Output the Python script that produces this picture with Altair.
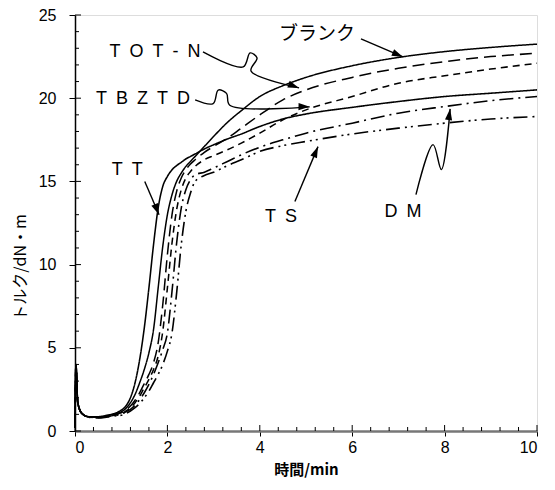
import math
import altair as alt
import pandas as pd

# ---------------- data ----------------
time_min = [0, 0.02, 0.06, 0.15, 0.3, 0.5, 0.7, 0.9, 1.0, 1.1, 1.2, 1.3, 1.4, 1.5, 1.6, 1.7,
            1.8, 1.9, 2.0, 2.1, 2.2, 2.3, 2.4, 2.5, 2.6, 2.8, 3.0, 3.3, 3.6, 4.0, 4.5, 5.0,
            6.0, 7.0, 8.0, 9.0, 10.0]

blank = [0.2, 4.0, 1.7, 1.05, 0.85, 0.84, 0.92, 1.05, 1.15, 1.35, 1.7, 2.2, 2.9, 3.7, 4.7, 6.1,
         8.6, 11.1, 13.0, 14.2, 15.0, 15.5, 15.9, 16.2, 16.5, 17.1, 17.7, 18.55, 19.25, 20.1, 20.75, 21.25,
         21.95, 22.45, 22.8, 23.05, 23.25]
totn = [0.2, 4.0, 1.7, 1.05, 0.85, 0.83, 0.9, 1.02, 1.1, 1.25, 1.5, 1.85, 2.3, 2.85, 3.4, 4.1,
        5.3, 7.6, 10.6, 13.0, 14.4, 15.2, 15.7, 16.05, 16.3, 16.75, 17.1, 17.6, 18.2, 19.0, 19.9, 20.5,
        21.25, 21.8, 22.2, 22.5, 22.7]
tbztd = [0.2, 4.0, 1.7, 1.05, 0.85, 0.82, 0.88, 0.98, 1.05, 1.2, 1.4, 1.7, 2.1, 2.6, 3.1, 3.7,
         4.5, 6.0, 8.6, 11.3, 13.3, 14.5, 15.2, 15.6, 15.9, 16.3, 16.55, 16.9, 17.3, 17.9, 18.7, 19.3,
         20.1, 20.9, 21.35, 21.75, 22.1]
tt = [0.2, 4.0, 1.7, 1.05, 0.86, 0.86, 0.95, 1.1, 1.25, 1.5, 2.0, 2.9, 4.3, 6.2, 8.6, 11.2,
      13.4, 14.7, 15.3, 15.7, 15.95, 16.15, 16.35, 16.5, 16.65, 16.95, 17.2, 17.55, 17.85, 18.3, 18.75, 19.05,
      19.45, 19.8, 20.1, 20.3, 20.5]
dm = [0.2, 4.0, 1.7, 1.05, 0.84, 0.8, 0.86, 0.95, 1.0, 1.15, 1.3, 1.55, 1.9, 2.3, 2.8, 3.4,
      4.1, 4.9, 5.9, 8.4, 11.3, 13.4, 14.5, 15.1, 15.4, 15.55, 15.8, 16.2, 16.6, 17.05, 17.5, 17.9,
      18.5, 19.1, 19.5, 19.85, 20.1]
ts = [0.2, 4.0, 1.7, 1.05, 0.83, 0.78, 0.84, 0.92, 0.95, 1.05, 1.2, 1.4, 1.65, 2.0, 2.4, 2.9,
      3.4, 4.0, 4.8, 5.9, 8.3, 11.2, 13.2, 14.3, 15.0, 15.35, 15.55, 15.95, 16.3, 16.8, 17.15, 17.4,
      17.85, 18.2, 18.5, 18.75, 18.9]

series_names = ["ブランク", "TOT-N", "TBZTD", "TT", "DM", "TS"]
series_values = [blank, totn, tbztd, tt, dm, ts]
series_dash = [[1, 0], [12, 6], [7, 5], [1, 0], [14, 5, 2, 5], [14, 5, 2, 4, 2, 5]]
series_width = [1.5, 1.6, 1.6, 2.0, 1.6, 1.6]

x_ticks = [0, 2, 4, 6, 8, 10]
y_ticks = [0, 5, 10, 15, 20, 25]
x_minor = [round(i * 0.4, 1) for i in range(1, 25) if i % 5]
y_minor = [i for i in range(1, 25) if i % 5]

# annotation labels (data coordinates) and leader paths
label_text = ["T\u2002O\u2002T\u2002-\u2002N", "T\u2002B\u2002Z\u2002T\u2002D", "T\u2002T", "T\u2002S", "D\u2002M"]
label_x = [1.73, 1.47, 1.13, 4.46, 7.10]
label_y = [22.78, 19.96, 15.71, 12.89, 13.19]
blank_label_x = [5.24]
blank_label_y = [23.88]

leader_paths = {
    "blank": [(6.19, 23.56), (7.10, 22.48)],
    "totn": [(2.77, 22.78), (3.64, 21.88), (3.79, 22.72), (3.94, 22.42), (3.81, 21.64), (4.85, 20.62)],
    "tbztd": [(2.60, 19.90), (2.99, 19.68), (3.10, 20.49), (3.28, 20.29), (3.35, 19.58), (5.08, 19.48)],
    "tt": [(1.51, 14.99), (1.82, 13.00)],
    "ts": [(4.76, 13.79), (5.26, 17.09)],
    "dm": [(7.38, 14.21), (7.75, 17.21), (7.93, 15.71), (8.12, 19.36)],
}

W, H = 462, 416
PXX = W / 10.0
PXY = H / 25.0

# ---------------- build tables ----------------
curve_rows = []
for name, vals in zip(series_names, series_values):
    for x, y in zip(time_min, vals):
        curve_rows.append({"series": name, "x": x, "y": y})
curves_df = pd.DataFrame(curve_rows)

lead_rows, head_rows = [], []
for key, pts in leader_paths.items():
    for i, (x, y) in enumerate(pts):
        lead_rows.append({"arrow": key, "i": i, "x": x, "y": y})
    (xp, yp), (xt, yt) = pts[-2], pts[-1]
    dxp = (xt - xp) * PXX
    dyp = -(yt - yp) * PXY
    ang = math.degrees(math.atan2(dxp, -dyp)) % 360
    head_rows.append({"arrow": key, "x": xt, "y": yt, "angle": ang})
lead_df = pd.DataFrame(lead_rows)
head_df = pd.DataFrame(head_rows)
label_df = pd.DataFrame({"text": label_text, "x": label_x, "y": label_y})
blank_df = pd.DataFrame({"text": ["ブランク"], "x": blank_label_x, "y": blank_label_y})
xminor_df = pd.DataFrame({"x": x_minor})
yminor_df = pd.DataFrame({"y": y_minor})
xmajor_df = pd.DataFrame({"x": x_ticks})
ymajor_df = pd.DataFrame({"y": y_ticks})

xscale = alt.Scale(domain=[0, 10], nice=False)
yscale = alt.Scale(domain=[0, 25], nice=False)

X = alt.X("x:Q", scale=xscale, axis=alt.Axis(
    values=x_ticks, title="時間/min", grid=False, tickSize=5, tickColor="black",
    labelFont="Liberation Sans", labelFontSize=16, labelColor="black", labelPadding=3,
    titleFont="Noto Sans CJK JP", titleFontSize=15, titleFontWeight="bold", titleColor="black",
    titleY=38, titleBaseline="middle",
    domainColor="#777777", domainWidth=2.5))
Y = alt.Y("y:Q", scale=yscale, axis=alt.Axis(
    values=y_ticks, title="トルク/dN・m", grid=False, tickSize=6, tickColor="black",
    labelFont="Liberation Sans", labelFontSize=16, labelColor="black", labelPadding=13,
    titleFont="Noto Sans CJK JP", titleFontSize=16, titleFontWeight="normal", titleColor="black",
    titleX=-55, titleY=252, titleAlign="center", titleBaseline="middle", titleAngle=270,
    domainColor="black", domainWidth=1.5))

curves = alt.Chart(curves_df).mark_line(interpolate="monotone", color="black").encode(
    x=X, y=Y,
    detail="series:N",
    strokeDash=alt.StrokeDash("series:N", scale=alt.Scale(domain=series_names, range=series_dash), legend=None),
    strokeWidth=alt.StrokeWidth("series:N", scale=alt.Scale(domain=series_names, range=series_width), legend=None),
)

leaders = alt.Chart(lead_df).mark_line(interpolate="catmull-rom", color="black", strokeWidth=1.4).encode(
    x=alt.X("x:Q", scale=xscale), y=alt.Y("y:Q", scale=yscale), detail="arrow:N", order="i:Q")

heads = alt.Chart(head_df).mark_point(
    shape="M0,0L-0.32,1L0.32,1Z", filled=True, size=500, color="black", opacity=1, strokeWidth=0
).encode(x=alt.X("x:Q", scale=xscale), y=alt.Y("y:Q", scale=yscale),
         angle=alt.Angle("angle:Q", scale=None))

labels = alt.Chart(label_df).mark_text(font="Liberation Sans", fontSize=18, color="black").encode(
    x=alt.X("x:Q", scale=xscale), y=alt.Y("y:Q", scale=yscale), text="text:N")

blank_label = alt.Chart(blank_df).mark_text(font="Noto Sans CJK JP", fontSize=19, color="black").encode(
    x=alt.X("x:Q", scale=xscale), y=alt.Y("y:Q", scale=yscale), text="text:N")

xminor = alt.Chart(xminor_df).mark_rule(color="black", strokeWidth=1).encode(
    x=alt.X("x:Q", scale=xscale), y=alt.value(H), y2=alt.value(H - 4))
xmajor = alt.Chart(xmajor_df).mark_rule(color="black", strokeWidth=1).encode(
    x=alt.X("x:Q", scale=xscale), y=alt.value(H), y2=alt.value(H - 6))
yminor = alt.Chart(yminor_df).mark_rule(color="black", strokeWidth=1).encode(
    y=alt.Y("y:Q", scale=yscale), x=alt.value(0), x2=alt.value(4))
ymajor = alt.Chart(ymajor_df).mark_rule(color="black", strokeWidth=1).encode(
    y=alt.Y("y:Q", scale=yscale), x=alt.value(0), x2=alt.value(6))

chart = alt.layer(curves, xminor, xmajor, yminor, ymajor, leaders, heads, labels, blank_label).properties(
    width=W, height=H,
    padding={"left": 67, "top": 7, "right": 10, "bottom": 50},
    autosize=alt.AutoSizeParams(type="none"),
).configure_view(stroke="#222222", strokeWidth=1.2).configure(background="white")

chart.save("out.html", embed_options={"renderer": "svg", "actions": False})
